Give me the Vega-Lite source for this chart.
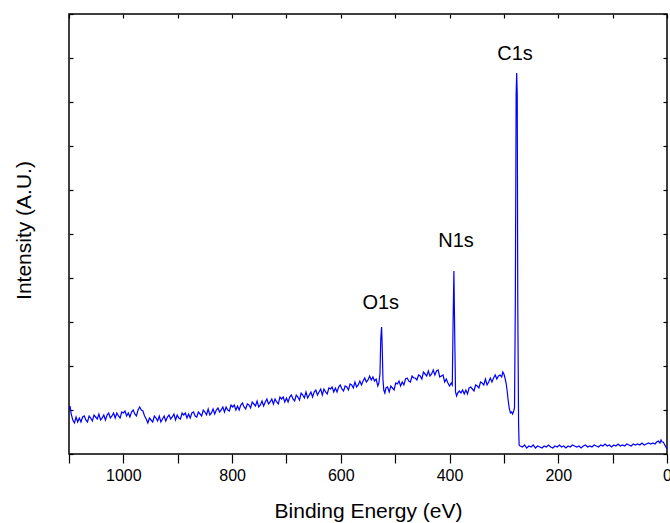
{
  "$schema": "https://vega.github.io/schema/vega-lite/v6.json",
  "width": 598,
  "height": 440,
  "autosize": "none",
  "padding": {"left": 69, "top": 14, "right": 3, "bottom": 69},
  "background": "white",
  "config": {"view": {"stroke": "black", "strokeWidth": 1.5}, "font": "Liberation Sans"},
  "datasets": {
    "spec": [
      {"e":1100,"h":45},{"e":1098,"h":48},{"e":1096,"h":40},{"e":1093,"h":34},{"e":1090,"h":31},
      {"e":1087,"h":37},{"e":1084,"h":32},{"e":1081,"h":36},{"e":1078,"h":32},{"e":1075,"h":37},{"e":1072,"h":38},{"e":1069,"h":34},{"e":1066,"h":32},{"e":1063,"h":38},{"e":1060,"h":36},{"e":1057,"h":33},{"e":1054,"h":39},{"e":1051,"h":37},{"e":1048,"h":35},{"e":1045,"h":40},{"e":1042,"h":34},{"e":1039,"h":36},{"e":1036,"h":39},{"e":1033,"h":34},{"e":1030,"h":39},{"e":1027,"h":41},{"e":1024,"h":36},{"e":1021,"h":38},{"e":1018,"h":41},{"e":1015,"h":36},{"e":1012,"h":41},{"e":1009,"h":38},{"e":1006,"h":36},{"e":1003,"h":42},{"e":1000,"h":41},{"e":997,"h":43},{"e":994,"h":38},{"e":991,"h":41},{"e":988,"h":37},{"e":985,"h":42},{"e":982,"h":44},{"e":979,"h":40},{"e":976,"h":38},
      {"e":973,"h":44},{"e":970,"h":47},{"e":967,"h":44},{"e":964,"h":43},{"e":961,"h":38},{"e":958,"h":35},{"e":955,"h":31},
      {"e":952,"h":36},{"e":949,"h":34},{"e":946,"h":32},{"e":943,"h":38},{"e":940,"h":36},{"e":937,"h":33},{"e":934,"h":38},{"e":931,"h":32},{"e":928,"h":35},{"e":925,"h":38},{"e":922,"h":33},{"e":919,"h":37},{"e":916,"h":39},{"e":913,"h":35},{"e":910,"h":37},{"e":907,"h":40},{"e":904,"h":34},{"e":901,"h":39},{"e":898,"h":36},{"e":895,"h":35},{"e":892,"h":41},{"e":889,"h":39},{"e":886,"h":41},{"e":883,"h":36},{"e":880,"h":40},{"e":877,"h":36},{"e":874,"h":41},
      {"e":871,"h":42},{"e":868,"h":38},{"e":865,"h":37},{"e":862,"h":42},{"e":859,"h":40},{"e":856,"h":38},{"e":853,"h":44},{"e":850,"h":42},{"e":847,"h":39},{"e":844,"h":45},{"e":841,"h":39},{"e":838,"h":41},{"e":835,"h":45},{"e":832,"h":40},{"e":829,"h":44},{"e":826,"h":46},{"e":823,"h":42},{"e":820,"h":44},{"e":817,"h":47},{"e":814,"h":42},{"e":811,"h":47},{"e":808,"h":44},{"e":805,"h":43},{"e":802,"h":49},{"e":799,"h":47},
      {"e":796,"h":49},{"e":793,"h":44},{"e":790,"h":48},{"e":787,"h":44},{"e":784,"h":49},{"e":781,"h":51},{"e":778,"h":47},{"e":775,"h":45},{"e":772,"h":50},{"e":769,"h":49},{"e":766,"h":46},{"e":763,"h":52},{"e":760,"h":50},{"e":757,"h":48},{"e":754,"h":53},{"e":751,"h":47},{"e":748,"h":49},{"e":745,"h":53},{"e":742,"h":48},{"e":739,"h":52},{"e":736,"h":55},{"e":733,"h":50},{"e":730,"h":52},{"e":727,"h":55},{"e":724,"h":50},{"e":721,"h":55},{"e":718,"h":52},{"e":715,"h":50},{"e":712,"h":57},{"e":709,"h":55},{"e":706,"h":57},
      {"e":703,"h":52},{"e":700,"h":56},{"e":697,"h":52},{"e":694,"h":57},{"e":691,"h":59},{"e":688,"h":55},{"e":685,"h":53},{"e":682,"h":59},{"e":679,"h":57},{"e":676,"h":54},{"e":673,"h":61},{"e":670,"h":59},{"e":667,"h":56},{"e":664,"h":62},{"e":661,"h":56},{"e":658,"h":59},{"e":655,"h":62},{"e":652,"h":57},{"e":649,"h":62},{"e":646,"h":64},
      {"e":643,"h":59},{"e":640,"h":62},{"e":637,"h":65},{"e":634,"h":59},{"e":631,"h":65},{"e":628,"h":62},{"e":625,"h":60},{"e":622,"h":66},{"e":619,"h":65},{"e":616,"h":67},{"e":613,"h":62},{"e":610,"h":66},{"e":607,"h":62},{"e":604,"h":67},{"e":601,"h":69},{"e":598,"h":65},{"e":595,"h":63},{"e":592,"h":68},{"e":589,"h":67},{"e":586,"h":64},{"e":583,"h":70},
      {"e":580,"h":69},{"e":577,"h":66},{"e":574,"h":72},{"e":571,"h":67},{"e":568,"h":69},{"e":565,"h":73},{"e":562,"h":69},{"e":559,"h":73},{"e":556,"h":76},{"e":553,"h":72},{"e":550,"h":74},{"e":547,"h":78},
      {"e":544,"h":74},{"e":541,"h":77},{"e":538,"h":73},{"e":535,"h":75},{"e":532,"h":68},{"e":530,"h":71},{"e":528,"h":80},{"e":526.5,"h":115},{"e":525,"h":127},{"e":524,"h":110},{"e":522.5,"h":75},{"e":521,"h":64},{"e":519,"h":61},{"e":517,"h":66},
      {"e":514,"h":67},{"e":511,"h":62},{"e":508,"h":68},{"e":505,"h":66},{"e":502,"h":64},{"e":499,"h":71},{"e":496,"h":70},{"e":493,"h":73},{"e":490,"h":68},{"e":487,"h":72},{"e":484,"h":69},{"e":481,"h":75},{"e":478,"h":76},{"e":475,"h":73},{"e":472,"h":72},{"e":469,"h":78},{"e":466,"h":76},
      {"e":463,"h":76},{"e":460,"h":74},{"e":457,"h":79},{"e":454,"h":78},{"e":451,"h":75},{"e":448,"h":82},{"e":445,"h":80},{"e":442,"h":78},{"e":439,"h":83},{"e":436,"h":78},{"e":433,"h":80},{"e":430,"h":84},{"e":427,"h":79},{"e":424,"h":83},
      {"e":421,"h":84},{"e":418,"h":77},{"e":415,"h":78},{"e":412,"h":79},{"e":409,"h":72},{"e":406,"h":75},{"e":403,"h":71},{"e":400,"h":68},{"e":397,"h":71},{"e":395,"h":69},{"e":393.5,"h":130},{"e":392,"h":183},{"e":390.5,"h":120},{"e":389,"h":62},{"e":387,"h":58},{"e":385,"h":61},
      {"e":382,"h":63},{"e":379,"h":61},{"e":376,"h":64},{"e":373,"h":60},{"e":370,"h":64},{"e":367,"h":60},{"e":364,"h":66},{"e":361,"h":67},{"e":358,"h":65},{"e":355,"h":63},{"e":352,"h":69},{"e":349,"h":68},{"e":346,"h":66},{"e":343,"h":72},{"e":340,"h":71},{"e":337,"h":69},{"e":334,"h":75},{"e":331,"h":69},{"e":328,"h":72},{"e":325,"h":76},{"e":322,"h":72},{"e":319,"h":76},{"e":316,"h":79},{"e":313,"h":75},{"e":310,"h":78},{"e":307,"h":79},{"e":304,"h":77},{"e":302,"h":82},{"e":300,"h":80},{"e":298,"h":76},{"e":296,"h":71},{"e":294,"h":63},{"e":292,"h":53},{"e":290,"h":45},{"e":288,"h":41},{"e":286,"h":42},{"e":284,"h":40},{"e":282,"h":43},{"e":280.5,"h":46},
      {"e":279,"h":150},{"e":277.5,"h":360},{"e":276.5,"h":381},{"e":275.5,"h":360},{"e":274.5,"h":150},{"e":273,"h":30},{"e":272,"h":9},
      {"e":270,"h":8},{"e":266,"h":7},{"e":262,"h":9},{"e":258,"h":6},{"e":254,"h":8},{"e":250,"h":7},{"e":246,"h":9},{"e":242,"h":6},{"e":238,"h":8},{"e":234,"h":7},{"e":230,"h":6},{"e":226,"h":8},{"e":222,"h":7},{"e":218,"h":9},{"e":214,"h":7},{"e":210,"h":6},{"e":206,"h":8},{"e":202,"h":7},{"e":198,"h":9},{"e":194,"h":7},{"e":190,"h":8},{"e":186,"h":6},{"e":182,"h":8},{"e":178,"h":7},{"e":174,"h":9},{"e":170,"h":8},{"e":166,"h":7},{"e":162,"h":8},{"e":158,"h":6},{"e":154,"h":8},{"e":150,"h":9},{"e":146,"h":7},{"e":142,"h":8},{"e":138,"h":7},{"e":134,"h":9},{"e":130,"h":8},{"e":126,"h":7},{"e":122,"h":9},{"e":118,"h":8},{"e":114,"h":10},{"e":110,"h":8},{"e":106,"h":9},{"e":102,"h":7},{"e":98,"h":9},{"e":94,"h":8},{"e":90,"h":10},{"e":86,"h":8},{"e":82,"h":9},{"e":78,"h":8},{"e":74,"h":10},{"e":70,"h":9},{"e":66,"h":8},{"e":62,"h":10},{"e":58,"h":9},{"e":54,"h":10},{"e":50,"h":9},{"e":46,"h":11},{"e":42,"h":9},{"e":38,"h":10},{"e":34,"h":11},{"e":30,"h":10},{"e":26,"h":11},{"e":22,"h":10},{"e":19,"h":12},{"e":16,"h":13},{"e":13,"h":11},{"e":11,"h":14},{"e":9,"h":12},{"e":7,"h":12},{"e":5,"h":10},{"e":3,"h":8},{"e":1,"h":6},{"e":0,"h":5}
    ],
    "labels": [
      {"t": "C1s", "e": 279.5, "h": 400},
      {"t": "N1s", "e": 388, "h": 213},
      {"t": "O1s", "e": 526.6, "h": 151}
    ]
  },
  "layer": [
    {
      "data": {"name": "spec"},
      "mark": {"type": "line", "color": "#0000ff", "strokeWidth": 1.2},
      "encoding": {
        "x": {
          "field": "e", "type": "quantitative",
          "scale": {"domain": [0, 1100], "reverse": true, "nice": false, "zero": false},
          "axis": {
            "orient": "bottom",
            "values": [1100, 1000, 900, 800, 700, 600, 500, 400, 300, 200, 100, 0],
            "format": "d",
            "labelExpr": "datum.value % 200 == 0 ? datum.label : ''",
            "labelFlush": false, "labelOverlap": false,
            "tickSize": 9, "tickColor": "black", "tickWidth": 1.2,
            "domain": false, "grid": false,
            "labelFontSize": 16, "labelColor": "black", "labelPadding": 4,
            "labelFont": "Liberation Sans",
            "title": "Binding Energy (eV)", "titleFont": "Liberation Sans",
            "titleFontSize": 21, "titleFontWeight": "normal", "titleColor": "black",
            "titleBaseline": "middle", "titleY": 57
          }
        },
        "y": {
          "field": "h", "type": "quantitative",
          "scale": {"domain": [0, 440], "nice": false, "zero": false},
          "axis": {
            "orient": "left",
            "values": [0, 44, 88, 132, 176, 220, 264, 308, 352, 396, 440],
            "labels": false, "tickSize": -4, "tickColor": "black", "tickWidth": 1.2,
            "domain": false, "grid": false,
            "title": "Intensity (A.U.)", "titleFont": "Liberation Sans",
            "titleFontSize": 21, "titleFontWeight": "normal", "titleColor": "black",
            "titleAngle": -90, "titleBaseline": "middle", "titleAlign": "center",
            "titleX": -45, "titleY": 216
          }
        }
      }
    },
    {
      "data": {"name": "labels"},
      "mark": {"type": "text", "fontSize": 20, "font": "Liberation Sans", "color": "black", "align": "center", "baseline": "middle"},
      "encoding": {
        "x": {
          "field": "e", "type": "quantitative",
          "axis": {
            "orient": "top",
            "values": [1100, 1000, 900, 800, 700, 600, 500, 400, 300, 200, 100, 0],
            "labels": false, "tickSize": -4, "tickColor": "black", "tickWidth": 1.2,
            "domain": false, "grid": false, "title": null
          }
        },
        "y": {
          "field": "h", "type": "quantitative",
          "axis": {
            "orient": "right",
            "values": [0, 44, 88, 132, 176, 220, 264, 308, 352, 396, 440],
            "labels": false, "tickSize": -4, "tickColor": "black", "tickWidth": 1.2,
            "domain": false, "grid": false, "title": null
          }
        },
        "text": {"field": "t"}
      }
    }
  ],
  "resolve": {"axis": {"x": "independent", "y": "independent"}}
}
